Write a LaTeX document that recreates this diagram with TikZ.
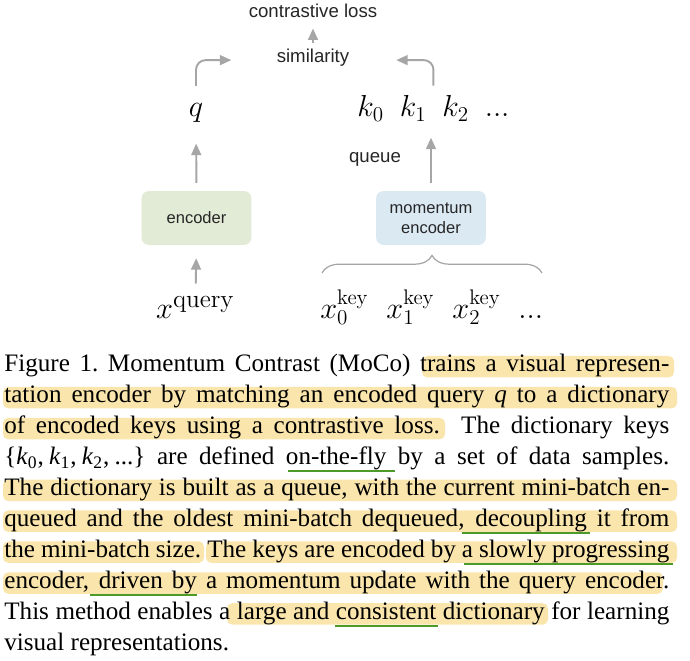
\documentclass[tikz,border=0pt]{standalone}
\usepackage[no-math]{fontspec}
\setmainfont{Liberation Serif}
\setsansfont{Liberation Sans}
\usepackage{xcolor}
\usetikzlibrary{calc,arrows.meta,decorations.pathreplacing}
\definecolor{encGreen}{RGB}{226,235,214}
\definecolor{encBlue}{RGB}{219,233,243}
\definecolor{arrowGray}{RGB}{166,166,166}
\definecolor{markYellow}{RGB}{250,230,172}
\definecolor{lineGreen}{RGB}{76,154,42}
\newcommand{\cptfont}{\fontsize{14.3}{17.5}\selectfont}
\newcommand{\jline}[1]{\makebox[378.5pt][s]{#1}}

\begin{document}
\begin{tikzpicture}[x=0.02cm,y=-0.02cm,
  lbl/.style={font=\sffamily\fontsize{10.6}{12.7}\selectfont,text=black!85,inner sep=0pt},
  mth/.style={font=\fontsize{17}{20}\selectfont,inner sep=0pt},
  encbox/.style={rounded corners=4pt,minimum width=62.4pt,minimum height=30.6pt,inner sep=2pt,align=center,font=\sffamily\fontsize{9.4}{11.3}\selectfont,text=black!85},
  arr/.style={draw=arrowGray,line width=1.1pt,-{Triangle[length=6.5pt,width=5.6pt]}},
  brc/.style={draw=arrowGray,line width=0.7pt,decorate,decoration={brace,amplitude=10pt}},
  capline/.style={anchor=base west,inner sep=0pt,font=\cptfont},
  hlmark/.style={fill=markYellow,rounded corners=3pt},
  uline/.style={draw=lineGreen,line width=1.1pt}]
\useasboundingbox[fill=white] (0,0) rectangle (690,661);

\node[lbl,anchor=base] (loss) at (313,18) {contrastive loss};
\node[lbl,anchor=base] (sim) at (313,63) {similarity};
\node[lbl,anchor=base] (queue) at (375,163) {queue};
\node[mth,anchor=base] (q) at (196,117) {$q$};
\node[mth,anchor=base west] (keys) at (357,117) {$k_0\hspace{9pt}k_1\hspace{9pt}k_2\hspace{9pt}...$};
\node[encbox,fill=encGreen] (enc) at (196.5,218) {encoder};
\node[encbox,fill=encBlue] (menc) at (431,218) {momentum\\encoder};
\node[mth,anchor=base,font=\fontsize{19}{22}\selectfont] (xq) at (195.5,319) {$x^{\mathrm{query}}$};
\node[mth,anchor=base west] (xkey) at (320,319) {$x_0^{\mathrm{key}}\hspace{10pt}x_1^{\mathrm{key}}\hspace{10pt}x_2^{\mathrm{key}}\hspace{10pt}...$};

\draw[arr,shorten <=3.7pt,shorten >=5.7pt] (sim.north) -- (loss.south);
\draw[arr,rounded corners=5.5pt,shorten <=10pt,shorten >=25.7pt] (q.north) |- ([yshift=-1.1pt]sim.west);
\draw[arr,rounded corners=5.5pt,shorten <=5.7pt,shorten >=26.6pt] (keys.north) |- ([yshift=-1.1pt]sim.east);
\draw[arr,shorten <=4.5pt,shorten >=11.6pt] (enc.north) -- (q.south);
\draw[arr,shorten <=4.5pt,shorten >=9pt] (menc.north) -- (menc.north |- keys.south);
\draw[arr,shorten <=7.5pt,shorten >=7.4pt] (xq.north) -- (enc.south);
\draw[brc] (322,273) -- (542,273);

\fill[hlmark] (422,356) rectangle (674,377.5);
\fill[hlmark] (3,386.9) rectangle (677,408.4);
\fill[hlmark] (3,417.8) rectangle (445,439.3);
\fill[hlmark] (3,479.6) rectangle (677,501.1);
\fill[hlmark] (3,510.5) rectangle (677,532);
\fill[hlmark] (3,541.4) rectangle (204,562.9);
\fill[hlmark] (206,541.4) rectangle (677,562.9);
\fill[hlmark] (3,572.3) rectangle (663,593.8);
\fill[hlmark] (227,603.2) rectangle (548,624.7);

\draw[uline] (288,471) -- (395,471);
\draw[uline] (462,533) -- (590,533);
\draw[uline] (464,564) -- (673,564);
\draw[uline] (90,595) -- (197,595);
\draw[uline] (335,626) -- (438,626);

\node[capline] (cap1) at (4,372) {\jline{Figure 1.\ Momentum Contrast (MoCo) trains a visual represen-}};
\node[capline] (cap2) at (4,402.9) {\jline{tation encoder by matching an encoded query \textit{q} to a dictionary}};
\node[capline] (cap3) at (4,433.8) {\jline{of encoded keys using a contrastive loss. The dictionary keys}};
\node[capline] (cap4) at (4,464.7) {\jline{\{\textit{k}\textsubscript{0},\hspace{3pt}\textit{k}\textsubscript{1},\hspace{3pt}\textit{k}\textsubscript{2},\hspace{3pt}...\}\ are defined on-the-fly by a set of data samples.}};
\node[capline] (cap5) at (4,495.6) {\jline{The dictionary is built as a queue, with the current mini-batch en-}};
\node[capline] (cap6) at (4,526.5) {\jline{queued and the oldest mini-batch dequeued, decoupling it from}};
\node[capline] (cap7) at (4,557.4) {\jline{the mini-batch size.\ The keys are encoded by a slowly progressing}};
\node[capline] (cap8) at (4,588.3) {\jline{encoder, driven by a momentum update with the query encoder.}};
\node[capline] (cap9) at (4,619.2) {\jline{This method enables a large and consistent dictionary for learning}};
\node[capline] (cap10) at (4,650.1) {visual representations.};
\end{tikzpicture}
\end{document}
